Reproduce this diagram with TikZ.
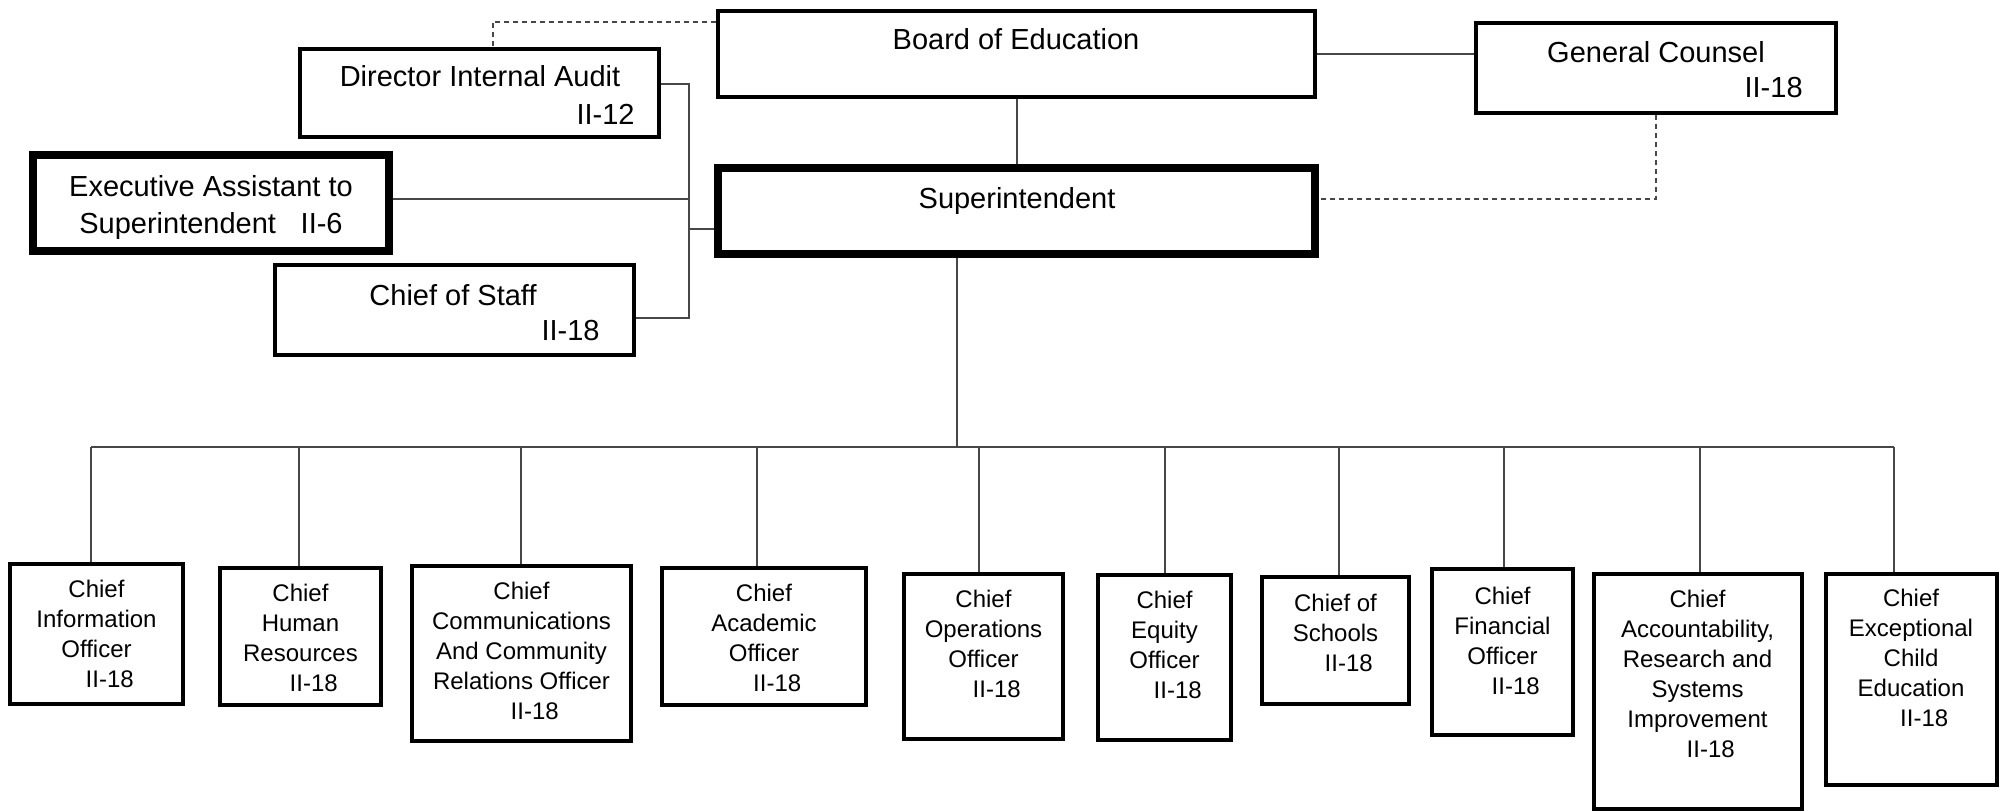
\documentclass[tikz,border=0pt]{standalone}
\usepackage{fontspec}
\setmainfont{Liberation Sans}
\usetikzlibrary{fit,positioning}

\newcommand{\paygrade}{\hspace*{1.1em}II-18}

\tikzset{
  box/.style={draw, line width=1.75pt, inner sep=0pt},
  bigbox/.style={box, line width=3.75pt},
  toptext/.style={font=\fontsize{14.5}{18.5}\selectfont, inner sep=0pt, align=center},
  subtext/.style={font=\fontsize{12}{15}\selectfont, inner sep=0pt, align=center},
  link/.style={draw=black!72, line width=1pt},
  dotlink/.style={link, dash pattern=on 2.5pt off 2pt}
}

\begin{document}
\begin{tikzpicture}[x=0.5pt,y=-0.5pt]
\useasboundingbox (0,0) rectangle (2001,811);

% top level boxes
\node[box, fit={(718,11) (1315,97)}] (board) {};
\node[box, fit={(300,49) (659,137)}] (dia) {};
\node[bigbox, fit={(33,155) (389,251)}] (exa) {};
\node[box, fit={(275,265) (634,355)}] (cos) {};
\node[bigbox, fit={(718,168) (1315,254)}] (sup) {};
\node[box, fit={(1476,23) (1836,113)}] (gc) {};

\node[toptext, anchor=base] (board-t) at (1016,49) {Board of Education};
\node[toptext, anchor=base] (dia-t) at (480,86) {Director Internal Audit};
\node[toptext, anchor=base east] (dia-c) at (635,124) {II-12};
\node[toptext, anchor=north] (exa-t) at (211,175) {Executive Assistant to\\Superintendent\hspace{0.85em}II-6};
\node[toptext, anchor=base] (cos-t) at (453,305) {Chief of Staff};
\node[toptext, anchor=base east] (cos-c) at (600,340) {II-18};
\node[toptext, anchor=base] (gc-t) at (1656,62) {General Counsel};
\node[toptext, anchor=base east] (gc-c) at (1803,97.5) {II-18};
\node[toptext, anchor=base] (sup-t) at (1017,208.5) {Superintendent};

% chiefs
\node[box, fit={(10,564) (183,704)}] (cio) {};
\node[box, fit={(220,568) (381,705)}] (chr) {};
\node[box, fit={(412,566) (631,741)}] (cco) {};
\node[box, fit={(662,568) (866,705)}] (cao) {};
\node[box, fit={(904,574) (1063,739)}] (coo) {};
\node[box, fit={(1098,575) (1231,740)}] (ceo) {};
\node[box, fit={(1262,577) (1409,704)}] (csc) {};
\node[box, fit={(1432,569) (1573,735)}] (cfo) {};
\node[box, fit={(1594,574) (1802,809)}] (cas) {};
\node[box, fit={(1826,574) (1997,785)}] (cex) {};

\node[subtext, anchor=north] (cio-t) at (96.5,579.4) {Chief\\Information\\Officer\\\paygrade};
\node[subtext, anchor=north] (chr-t) at (300.5,583.4) {Chief\\Human\\Resources\\\paygrade};
\node[subtext, anchor=north] (cco-t) at (521.5,581.4) {Chief\\Communications\\And Community\\Relations Officer\\\paygrade};
\node[subtext, anchor=north] (cao-t) at (764,583.4) {Chief\\Academic\\Officer\\\paygrade};
\node[subtext, anchor=north] (coo-t) at (983.5,589.4) {Chief\\Operations\\Officer\\\paygrade};
\node[subtext, anchor=north] (ceo-t) at (1164.5,590.4) {Chief\\Equity\\Officer\\\paygrade};
\node[subtext, anchor=north] (csc-t) at (1335.5,593.4) {Chief of\\Schools\\\paygrade};
\node[subtext, anchor=north] (cfo-t) at (1502.5,586.4) {Chief\\Financial\\Officer\\\paygrade};
\node[subtext, anchor=north] (cas-t) at (1697.5,589.4) {Chief\\Accountability,\\Research and\\Systems\\Improvement\\\paygrade};
\node[subtext, anchor=north] (cex-t) at (1911,588.4) {Chief\\Exceptional\\Child\\Education\\\paygrade};

% connectors
\coordinate (spine-t) at (689,84);
\coordinate (spine-m) at (689,199);
\coordinate (spine-s) at (689,229);
\coordinate (spine-b) at (689,318);
\draw[link] (dia.east |- spine-t) -- (spine-t) -- (spine-b) -- (cos.east |- spine-b);
\draw[link] (exa.east |- spine-m) -- (spine-m);
\draw[link] (spine-s) -- (sup.west |- spine-s);

\draw[link] (board.south) -- (sup.north);
\draw[link] (board.east) -- (gc.west |- board.east);
\draw[dotlink] (board.west |- 0,21.5) -| (dia.north -| 493,0);
\draw[dotlink] (gc.south) |- (sup.east |- 0,199);

\coordinate (bus-l) at (91,447);
\coordinate (bus-r) at (1894,447);
\coordinate (drop) at (957,447);
\draw[link] (bus-l) -- (bus-r);
\draw[link] (drop) -- (drop |- sup.south);

\foreach \n/\x in {cio/91,chr/299,cco/521,cao/757,coo/979,ceo/1165,csc/1339,cfo/1504,cas/1700,cex/1894}
\draw[link] (\x,447) -- (\n.north -| \x,0);
\end{tikzpicture}
\end{document}
